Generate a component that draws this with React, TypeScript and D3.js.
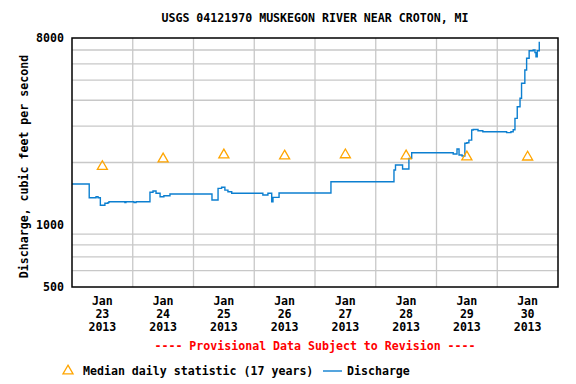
import React from 'react'
import * as d3 from 'd3'

// discharge readings: hours after Jan 23 2013 00:00, value in cfs
const dischargeHours = [
  0, 6.8, 9.5, 10.3, 11.2, 13, 14.2, 14.6, 20.9, 21.3, 24.5, 25.3, 30.8, 32, 33.2, 34.8, 36.3, 38.7,
  55.3, 57.7, 59.1, 60.4, 61.6, 63.1, 75.4, 77.4, 78.9, 79.4, 81.8, 102.3, 127.2, 127.8, 130.6,
  133.1, 134.2, 150.6, 152.1, 152.9, 154.1, 155.2, 156, 156.8, 157.9, 158.5, 160.4, 162.3, 171.7,
  173.4, 174.3, 175, 175.9, 177, 177.6, 178.9, 179.6, 180.6, 182.2, 182.9, 183.3, 183.8, 184.6,
]
const dischargeCfs = [
  1573, 1351, 1366, 1351, 1242, 1270, 1280, 1292, 1280, 1292, 1280, 1292, 1435, 1456, 1420, 1366, 1381, 1409,
  1317, 1500, 1517, 1471, 1445, 1419, 1393, 1419, 1292, 1357, 1424, 1614, 1840, 1945, 1860,
  2095, 2230, 2200, 2324, 2176, 2149, 2477, 2490, 2567, 2871, 2890, 2850, 2817, 2790,
  2817, 2880, 3270, 3722, 4087, 4830, 5600, 6380, 6940, 7000, 6800, 6490, 6940, 7675,
]

// median daily statistic, one per day at noon
const medianDays = [23, 24, 25, 26, 27, 28, 29, 30]
const medianCfs = [1912, 2080, 2175, 2150, 2178, 2153, 2128, 2124]

const dayLabels = ['23', '24', '25', '26', '27', '28', '29', '30']
const yLabelTicks = [500, 1000, 8000]
const yGridTicks = [600, 700, 800, 900, 2000, 3000, 4000, 5000, 6000, 7000]

const FONT = '"DejaVu Sans Mono", monospace'
const BLUE = '#0c7fd0'
const ORANGE = '#ffa500'

export default function App() {
  const left = 72, right = 558, top = 38, bottom = 287
  const t0 = new Date(2013, 0, 23)
  const hour = (h: number) => new Date(t0.getTime() + h * 3600 * 1000)

  const x = d3.scaleTime().domain([t0, new Date(2013, 0, 31)]).range([left, right])
  const y = d3.scaleLog().domain([500, 8000]).range([bottom, top])

  const pts = dischargeHours.map((h, i) => [hour(h), dischargeCfs[i]] as [Date, number])
  const line = d3.line<[Date, number]>()
    .x(d => x(d[0]))
    .y(d => y(d[1]))
    .curve(d3.curveStepAfter)

  const tri = d3.symbol().type(d3.symbolTriangle).size(44)()
  const days = d3.timeDay.range(t0, new Date(2013, 0, 31))

  return (
    <svg width={576} height={384} style={{ position: 'absolute', left: 0, top: 0, background: '#fff' }}
      fontFamily={FONT} fontWeight="bold" fontSize={11.6}>
      <rect width={576} height={384} fill="#fff" />
      <text x={(left + right) / 2} y={22} textAnchor="middle">USGS 04121970 MUSKEGON RIVER NEAR CROTON, MI</text>

      {/* grid */}
      {yGridTicks.map(v => (
        <line key={'h' + v} x1={left} x2={right} y1={y(v)} y2={y(v)} stroke="#c8c8c8" strokeWidth={1.3} />
      ))}
      {days.slice(1).map((d, i) => (
        <line key={'v' + i} x1={x(d)} x2={x(d)} y1={top} y2={bottom} stroke="#c8c8c8" strokeWidth={1.3} />
      ))}

      {/* discharge */}
      <path d={line(pts) || ''} fill="none" stroke={BLUE} strokeWidth={1.4} />

      {/* median */}
      {medianDays.map((d, i) => (
        <path key={'m' + d} d={tri || ''}
          transform={`translate(${x(new Date(2013, 0, d, 12))},${y(medianCfs[i])})`}
          fill="none" stroke={ORANGE} strokeWidth={1.3} />
      ))}

      <rect x={left} y={top} width={right - left} height={bottom - top} fill="none" stroke="#000" strokeWidth={1.5} />

      {/* y axis labels */}
      {yLabelTicks.map(v => (
        <text key={'yl' + v} x={64} y={y(v) + 4} textAnchor="end">{v}</text>
      ))}
      <text transform={`translate(28,${(top + bottom) / 2 + 4}) rotate(-90)`} textAnchor="middle">
        Discharge, cubic feet per second
      </text>

      {/* x axis labels */}
      {days.map((d, i) => {
        const cx = x(d3.timeHour.offset(d, 12))
        return (
          <g key={'xl' + i} textAnchor="middle">
            <text x={cx} y={305}>Jan</text>
            <text x={cx} y={318}>{dayLabels[i]}</text>
            <text x={cx} y={331}>2013</text>
          </g>
        )
      })}

      <text x={(left + right) / 2} y={350} textAnchor="middle" fill="#ff0000">
        ---- Provisional Data Subject to Revision ----
      </text>

      {/* legend */}
      <path d={tri || ''} transform="translate(68,371)" fill="none" stroke={ORANGE} strokeWidth={1.3} />
      <text x={83} y={375}>Median daily statistic (17 years)</text>
      <line x1={323} x2={342} y1={371} y2={371} stroke={BLUE} strokeWidth={1.4} />
      <text x={347} y={375}>Discharge</text>
    </svg>
  )
}
